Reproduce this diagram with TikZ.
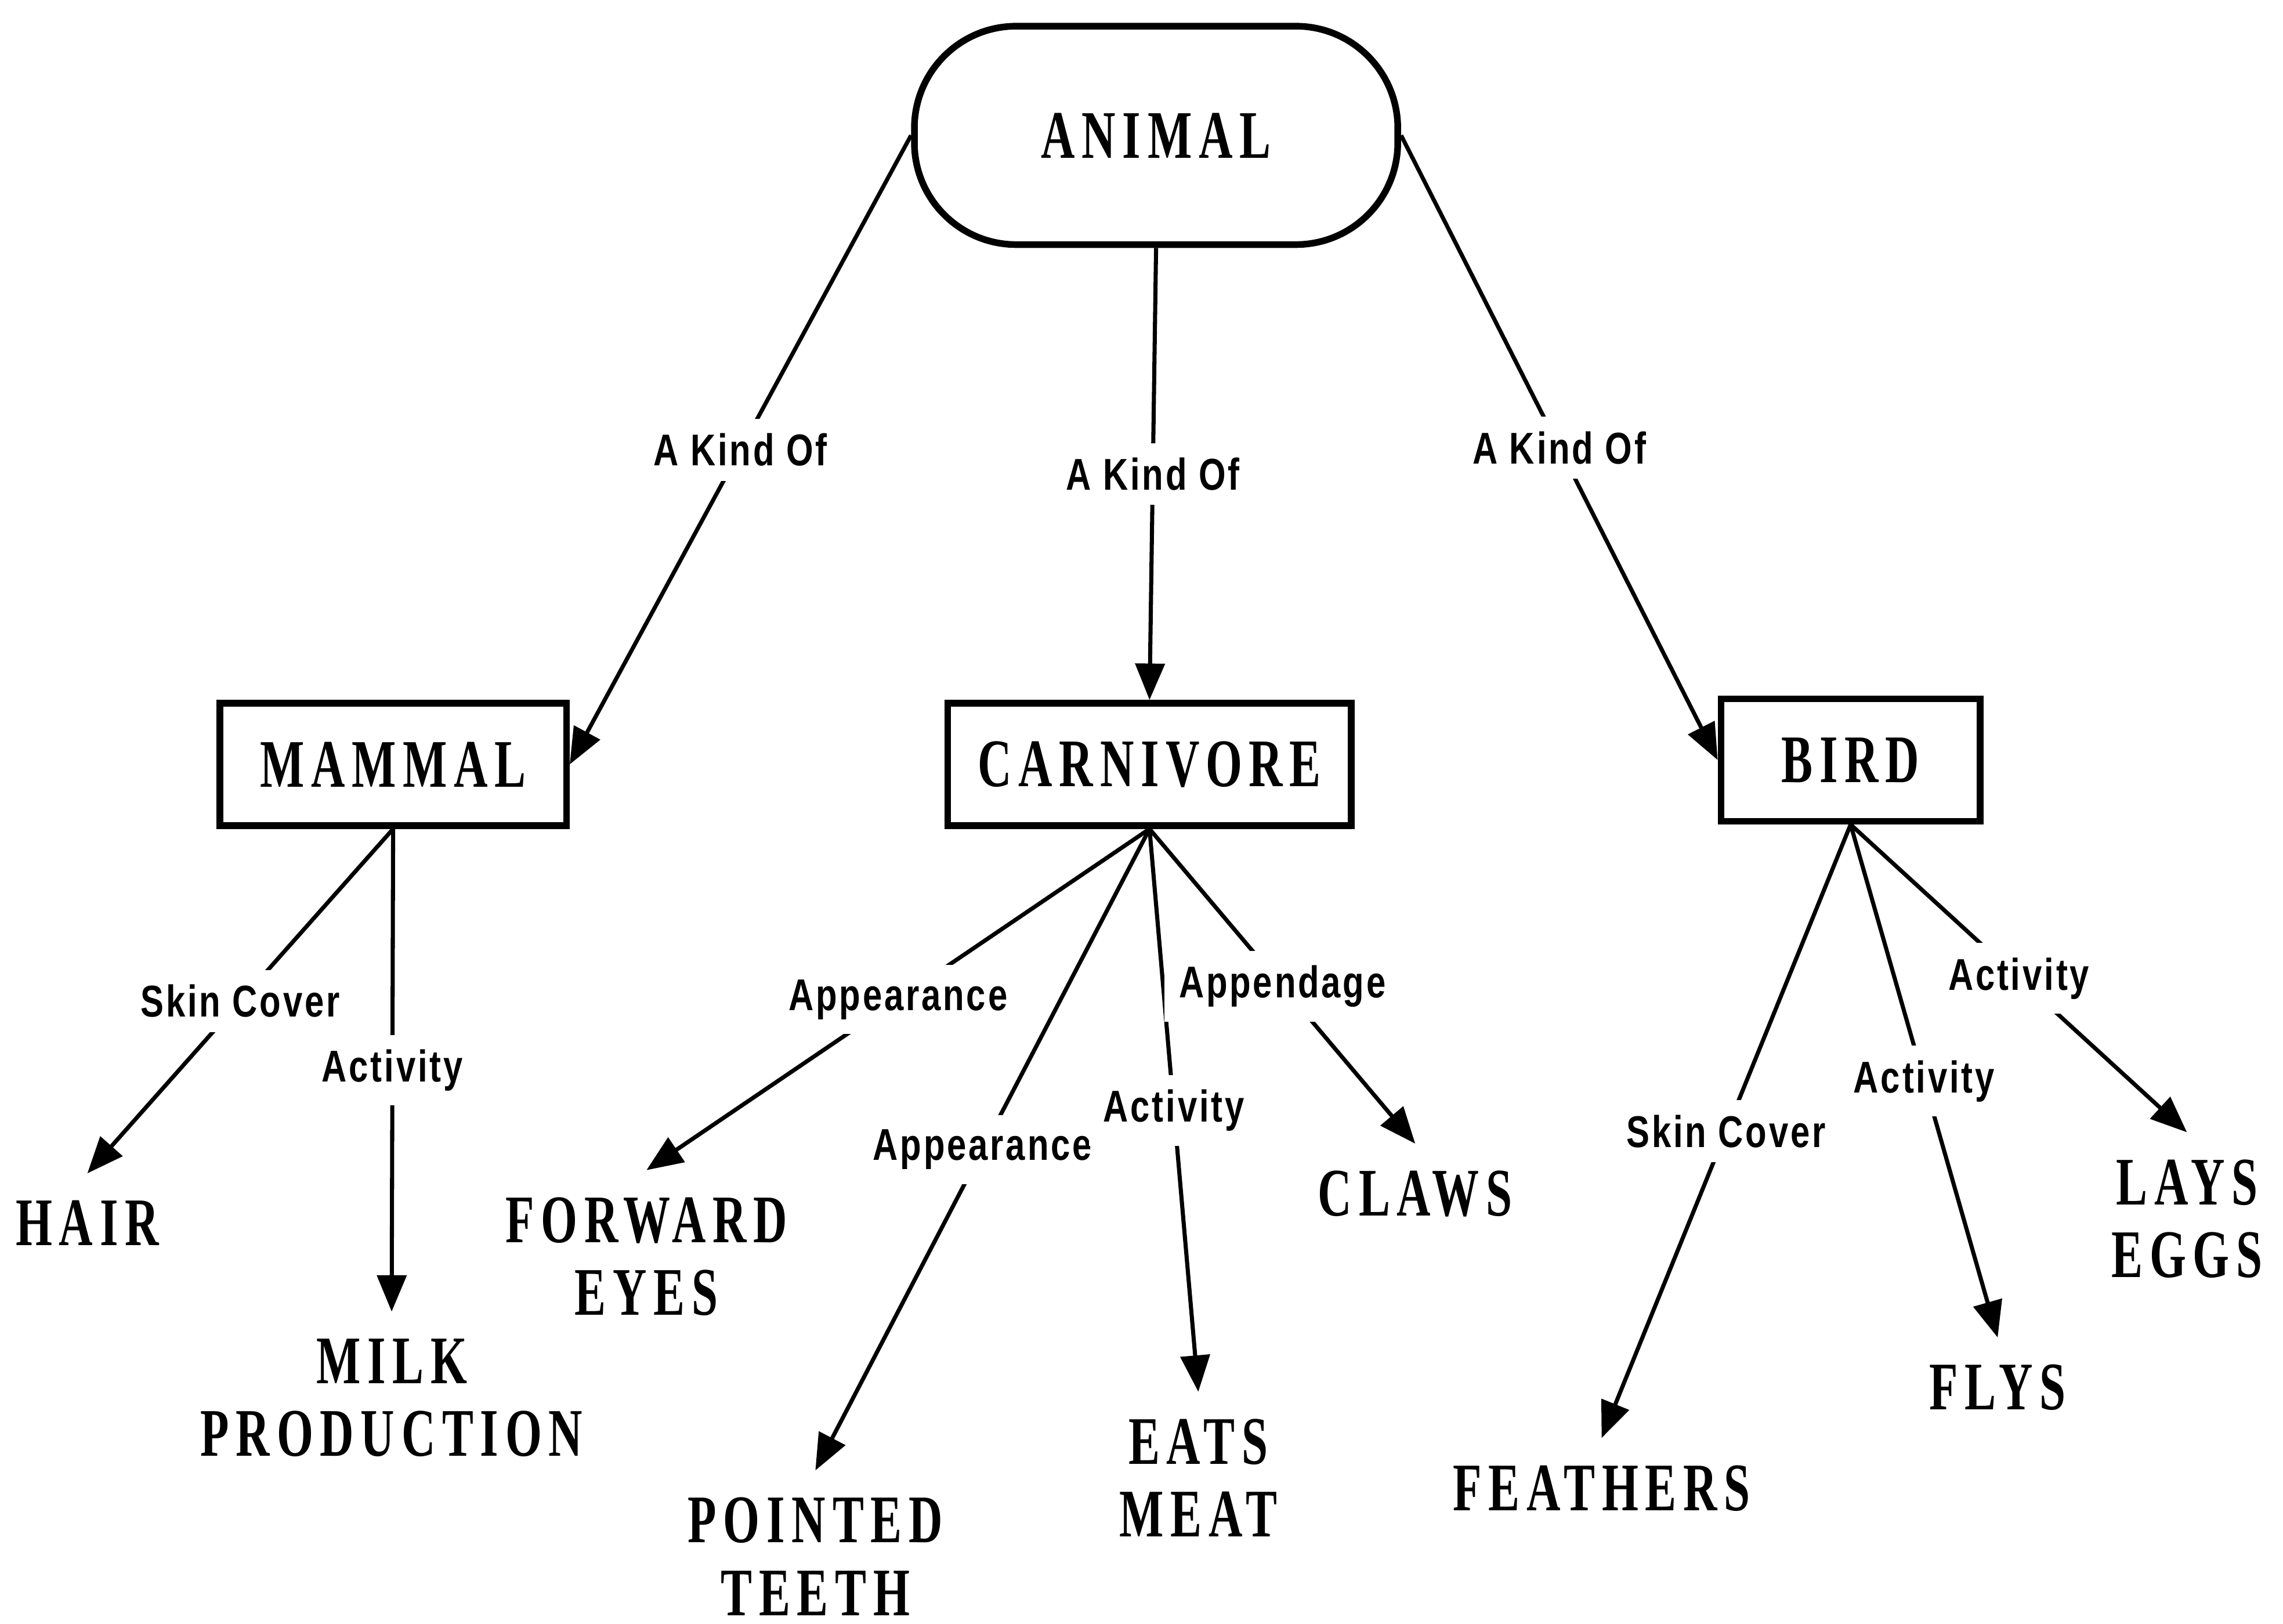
\documentclass[tikz,border=0pt]{standalone}
\usepackage{fontspec}
\setmainfont{Liberation Serif}
\newfontfamily\conceptfont[FakeStretch=0.69, LetterSpace=10]{Liberation Serif Bold}
\newfontfamily\linkfont[FakeStretch=0.78, LetterSpace=5]{Liberation Sans Bold}
\usetikzlibrary{shapes, arrows.meta, positioning}

\begin{document}
\begin{tikzpicture}[
  concept/.style={rectangle, draw, line width=1.3pt, minimum height=0.84cm, inner sep=0pt, font=\conceptfont\fontsize{13.3}{14.2}\selectfont},
  leaf/.style={align=center, inner sep=0.18cm, font=\conceptfont\fontsize{13.3}{14.2}\selectfont},
  link/.style={fill=white, inner sep=0.1cm, font=\linkfont\fontsize{8.7}{10}\selectfont},
  arrow/.style={-{Triangle[length=0.25cm, width=0.2cm]}, line width=0.8pt}
]
\useasboundingbox (0, 0) rectangle (15.68, 11.15);

% Top: root
\node[concept, rounded corners=0.7cm, minimum width=3.32cm, minimum height=1.5cm] (animal) at (7.94, 10.22) {ANIMAL};

% Middle: kinds of animal
\node[concept, minimum width=2.38cm] (mammal) at (2.70, 5.90) {MAMMAL};
\node[concept, minimum width=2.77cm] (carnivore) at (7.895, 5.90) {CARNIVORE};
\node[concept, minimum width=1.78cm] (bird) at (12.71, 5.93) {BIRD};

% Bottom: properties
\node[leaf] (hair) at (0.60, 2.75) {HAIR};
\node[leaf] (milk) at (2.69, 1.55) {MILK\\PRODUCTION};
\node[leaf] (eyes) at (4.44, 2.52) {FORWARD\\EYES};
\node[leaf] (teeth) at (5.60, 0.46) {POINTED\\TEETH};
\node[leaf] (meat) at (8.23, 1.00) {EATS\\MEAT};
\node[leaf] (claws) at (9.72, 2.95) {CLAWS};
\node[leaf] (feathers) at (11.00, 0.93) {FEATHERS};
\node[leaf] (flys) at (13.72, 1.62) {FLYS};
\node[leaf] (eggs) at (15.02, 2.78) {LAYS\\EGGS};

% Connections
\draw[arrow] (animal.west) -- node[link]{A Kind Of} (mammal.east);
\draw[arrow] (animal.south) -- node[link]{A Kind Of} (carnivore.north);
\draw[arrow] (animal.east) -- node[link]{A Kind Of} (bird.west);

\draw[arrow] (mammal.south) -- node[link]{Skin Cover} (hair.north);
\draw[arrow] (mammal.south) -- node[link]{Activity} (milk.north);

\draw[arrow] (carnivore.south) -- node[link]{Appearance} (eyes.north);
\draw[arrow] (carnivore.south) -- node[link]{Appearance} (teeth.north);
\draw[arrow] (carnivore.south) -- node[link]{Activity} (meat.north);
\draw[arrow] (carnivore.south) -- node[link]{Appendage} (claws.north);

\draw[arrow] (bird.south) -- node[link]{Skin Cover} (feathers.north);
\draw[arrow] (bird.south) -- node[link]{Activity} (flys.north);
\draw[arrow] (bird.south) -- node[link]{Activity} (eggs.north);

\end{tikzpicture}
\end{document}
